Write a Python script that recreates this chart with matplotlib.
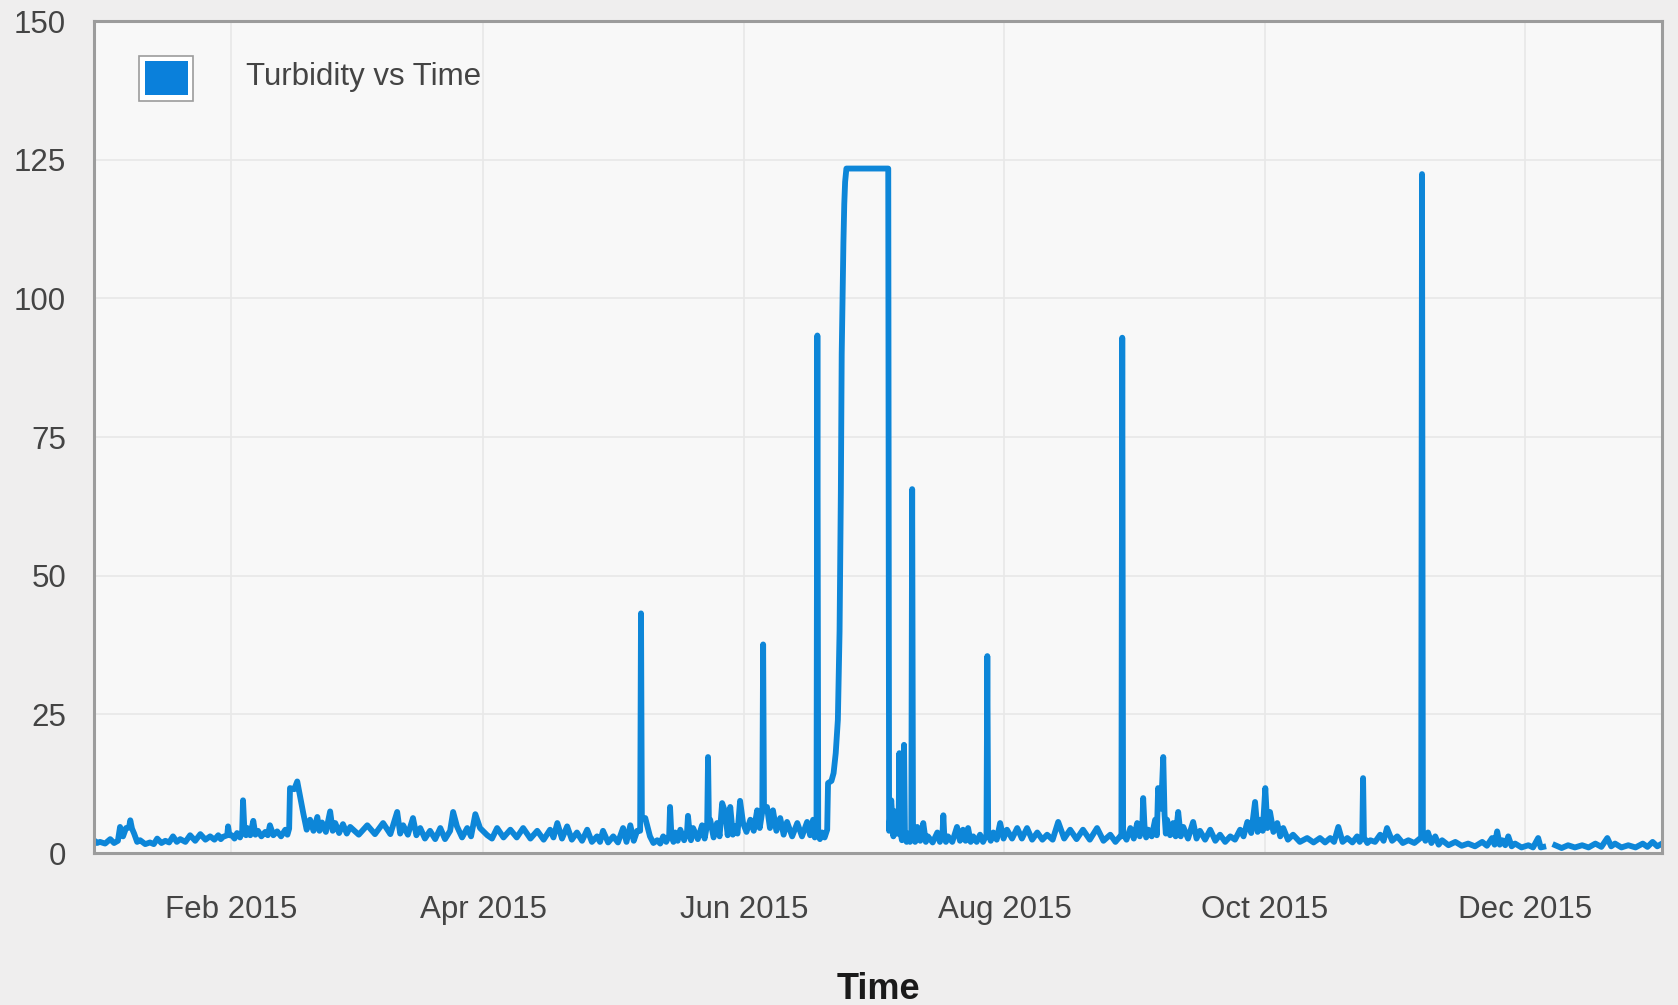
import numpy as np
import pandas as pd
import matplotlib
matplotlib.use("Agg")
from matplotlib import pyplot as plt
import matplotlib.dates as mdates
from matplotlib.patches import Rectangle

# days counted from 2015-01-01, turbidity
# (tops and bottoms of the noisy band, plus every spike)
days = [
    -1.2, -0.5, 0.2, 1.4, 2.6, 3.5, 4.4, 4.9, 5.6, 6.3,
    7.0, 7.3, 7.7, 8.2, 8.9, 9.6, 10.8, 11.9, 12.8, 13.6,
    14.6, 15.5, 16.4, 17.3, 18.2, 19.0, 20.2, 21.3, 22.5, 23.7,
    24.9, 26.0, 27.0, 27.9, 28.5, 29.0, 30.0, 30.2, 30.5, 31.1,
    31.7, 32.3, 33.0, 33.5, 33.7, 34.0, 34.4, 34.7, 35.4, 36.1,
    36.6, 37.2, 38.0, 38.9, 39.5, 40.0, 40.8, 41.7, 42.6, 43.6,
    44.1, 44.5, 44.7, 45.7, 46.4, 47.1, 47.8, 48.6, 49.4, 50.2,
    51.1, 51.6, 52.2, 53.1, 54.1, 54.7, 55.3, 56.2, 57.1, 58.0,
    58.8, 60.8, 62.8, 64.6, 66.5, 68.2, 69.8, 70.5, 71.2, 72.3,
    73.5, 74.3, 75.2, 76.3, 77.5, 78.7, 79.9, 81.0, 82.2, 82.9,
    83.8, 85.0, 86.2, 87.1, 88.1, 89.2, 90.9, 92.0, 93.2, 94.7,
    96.3, 97.8, 99.3, 101.0, 102.6, 104.1, 105.6, 106.4, 107.3, 108.4,
    109.6, 110.7, 111.9, 113.1, 114.3, 115.4, 116.6, 117.3, 118.0, 119.2,
    120.4, 121.5, 122.7, 123.5, 124.4, 125.2, 126.0, 126.7, 126.9, 127.1,
    127.9, 129.0, 129.8, 130.7, 131.4, 132.1, 132.8, 133.5, 133.7, 134.0,
    134.5, 134.9, 135.5, 136.1, 137.0, 137.7, 137.9, 138.2, 138.6, 139.1,
    140.2, 141.2, 141.8, 142.4, 142.6, 142.8, 143.1, 143.9, 144.7, 145.3,
    145.9, 146.6, 147.2, 147.8, 148.4, 148.9, 149.5, 150.1, 150.8, 151.6,
    152.5, 153.3, 154.1, 154.7, 155.3, 155.5, 155.7, 156.4, 157.1, 157.8,
    158.6, 159.5, 160.3, 161.1, 162.3, 163.5, 164.6, 165.8, 166.5, 167.2,
    167.6, 168.0, 168.2, 168.4, 168.8, 169.3, 169.9, 170.5, 170.7, 171.5,
    172.0, 172.5, 173.0, 173.4, 173.7, 173.9, 174.1, 174.3, 174.5, 174.7,
    175.0, 184.8, 185.0, 185.5, 186.0, 186.4, 186.8, 187.2, 187.4, 187.6,
    188.0, 188.3, 188.5, 188.7, 189.1, 189.5, 189.9, 190.2, 190.4, 190.6,
    191.1, 191.6, 192.3, 193.0, 193.6, 194.1, 195.2, 196.3, 196.9, 197.5,
    197.7, 197.9, 198.3, 198.8, 199.8, 200.9, 201.6, 202.3, 202.9, 203.5,
    204.1, 204.7, 205.5, 206.3, 207.0, 207.8, 208.0, 208.2, 208.8, 209.4,
    210.2, 211.0, 211.8, 212.6, 213.8, 215.0, 216.1, 217.3, 218.5, 219.7,
    220.9, 222.0, 223.3, 224.6, 226.0, 227.4, 228.9, 230.4, 232.0, 233.7,
    235.2, 236.8, 238.0, 239.1, 239.4, 239.6, 239.8, 240.6, 241.5, 242.3,
    243.1, 243.7, 244.3, 244.5, 244.8, 245.2, 245.7, 246.5, 247.3, 247.7,
    248.0, 248.7, 249.2, 249.5, 249.8, 250.1, 250.8, 251.5, 252.1, 252.7,
    253.3, 253.9, 255.0, 256.2, 257.0, 257.8, 259.0, 260.2, 261.4, 262.5,
    263.7, 264.9, 266.0, 267.2, 268.0, 268.9, 269.8, 270.7, 271.3, 271.9,
    272.5, 273.1, 273.6, 274.2, 275.0, 275.9, 276.6, 277.3, 278.4, 279.6,
    281.2, 282.9, 284.4, 285.9, 287.1, 288.3, 289.2, 290.2, 291.2, 292.3,
    293.5, 294.6, 295.2, 295.8, 296.0, 296.2, 297.0, 297.7, 298.8, 300.0,
    300.8, 301.6, 302.8, 304.0, 305.3, 306.6, 308.0, 309.6, 309.8, 310.0,
    310.6, 311.2, 312.0, 312.9, 313.7, 314.5, 316.0, 317.6, 319.1, 320.6,
    322.2, 323.9, 325.0, 326.2, 326.8, 327.4, 328.0, 328.6, 329.3, 330.0,
    330.8, 331.6, 333.1, 334.7, 335.8, 337.0, 337.6, 338.2, 339.8, 341.0,
    342.5, 344.0, 345.6, 347.3, 348.8, 350.4, 351.8, 353.2, 354.1, 355.0,
    356.5, 358.1, 359.8, 361.5, 362.6, 363.8, 364.9, 366.0,
]
turbidity = [
    2.3, 1.8, 2.0, 1.7, 2.5, 1.8, 2.2, 4.7, 3.0, 4.5,
    4.6, 5.9, 4.4, 3.5, 2.0, 2.3, 1.6, 1.9, 1.6, 2.6,
    1.8, 2.2, 1.9, 3.0, 2.0, 2.5, 2.0, 3.2, 2.2, 3.4,
    2.4, 3.0, 2.4, 3.2, 2.5, 2.9, 3.2, 4.8, 3.2, 3.2,
    2.6, 3.6, 2.8, 4.0, 9.5, 4.5, 3.2, 4.5, 3.2, 5.8,
    3.3, 4.0, 3.0, 3.8, 3.2, 5.0, 3.2, 3.9, 3.0, 4.2,
    3.3, 4.4, 11.7, 11.5, 12.9, 10.0, 7.2, 4.2, 6.0, 4.0,
    6.5, 4.0, 5.5, 3.8, 7.5, 4.0, 5.4, 3.6, 5.2, 3.5,
    4.7, 3.3, 5.0, 3.4, 5.4, 3.4, 7.4, 3.5, 5.0, 3.3,
    6.3, 3.2, 4.5, 2.6, 4.0, 2.5, 4.5, 2.5, 4.0, 7.4,
    4.8, 2.8, 4.5, 3.0, 7.0, 4.5, 3.2, 2.6, 4.5, 2.8,
    4.2, 2.8, 4.5, 2.6, 4.0, 2.4, 4.2, 2.8, 5.4, 2.6,
    4.8, 2.4, 3.7, 2.2, 4.2, 2.0, 3.0, 2.0, 4.0, 1.9,
    3.0, 1.9, 4.5, 2.0, 5.0, 2.2, 4.0, 4.0, 43.2, 6.3,
    6.3, 3.0, 1.8, 2.3, 1.7, 3.0, 2.0, 3.2, 8.3, 3.5,
    2.0, 3.7, 2.2, 4.2, 2.3, 4.0, 6.7, 4.3, 2.3, 4.5,
    2.5, 5.0, 2.6, 5.2, 17.3, 5.5, 6.0, 2.8, 5.4, 3.0,
    9.0, 7.4, 3.2, 8.3, 3.3, 4.8, 3.5, 9.4, 5.4, 3.8,
    6.0, 4.0, 7.7, 4.5, 7.5, 37.6, 8.0, 8.3, 4.5, 7.7,
    4.0, 6.3, 3.3, 5.6, 3.0, 5.4, 3.0, 5.6, 3.2, 6.0,
    2.8, 5.5, 93.3, 4.0, 2.5, 3.7, 2.8, 4.2, 12.6, 13.0,
    14.4, 18.0, 24.0, 40.0, 65.0, 90.0, 100.0, 110.0, 117.0, 121.0,
    123.4, 123.4, 4.0, 9.5, 3.0, 7.5, 3.5, 3.5, 18.0, 4.0,
    2.3, 4.0, 19.5, 4.0, 2.0, 3.5, 2.0, 3.5, 65.6, 3.5,
    2.0, 4.7, 2.2, 5.4, 2.0, 3.0, 1.9, 3.7, 2.0, 3.5,
    6.8, 3.5, 2.0, 3.0, 2.0, 4.7, 2.2, 4.2, 2.2, 4.5,
    2.0, 3.0, 2.0, 3.3, 2.0, 3.3, 35.5, 3.5, 2.2, 3.7,
    2.4, 5.4, 2.6, 4.2, 2.6, 4.5, 2.6, 4.5, 2.4, 3.7,
    2.4, 3.3, 2.4, 5.6, 2.6, 4.2, 2.5, 4.2, 2.4, 4.5,
    2.2, 3.3, 2.0, 3.0, 3.0, 92.9, 3.5, 2.4, 4.5, 2.6,
    5.4, 3.0, 5.0, 9.9, 5.0, 2.8, 4.2, 3.0, 6.0, 3.2,
    11.7, 8.0, 17.3, 7.0, 3.5, 6.0, 3.2, 5.4, 3.0, 7.4,
    3.0, 4.7, 2.6, 5.6, 2.6, 4.0, 2.4, 4.2, 2.2, 3.3,
    2.0, 3.0, 2.4, 4.2, 3.0, 5.6, 3.6, 9.2, 3.8, 6.0,
    4.0, 11.7, 4.5, 7.4, 3.8, 5.4, 3.0, 4.5, 2.4, 3.3,
    2.0, 2.7, 1.9, 2.7, 1.9, 2.7, 2.0, 4.7, 2.0, 2.7,
    1.9, 3.0, 2.0, 2.8, 13.5, 2.8, 1.8, 2.3, 2.0, 3.3,
    2.2, 4.5, 2.2, 3.0, 1.8, 2.3, 1.8, 2.8, 122.4, 3.7,
    2.2, 3.7, 1.8, 3.0, 1.5, 2.3, 1.4, 2.0, 1.3, 1.7,
    1.2, 2.0, 1.3, 2.7, 1.5, 3.9, 1.5, 2.3, 1.4, 3.0,
    1.2, 1.7, 1.0, 1.4, 1.0, 2.7, 1.0, 1.1, np.nan, 1.4,
    0.9, 1.4, 1.0, 1.4, 1.0, 1.7, 1.1, 2.7, 1.2, 1.7,
    1.0, 1.4, 1.0, 1.7, 1.1, 2.0, 1.2, 1.7,
]
series_label = "Turbidity vs Time"
y_ticks = [0, 25, 50, 75, 100, 125, 150]

times = pd.Timestamp("2015-01-01") + pd.to_timedelta(days, unit="D")

line_color = "#0d86d8"
plt.rcParams["font.family"] = ["Liberation Sans", "DejaVu Sans"]

fig = plt.figure(figsize=(16.78, 10.05), dpi=100, facecolor="#efeeee")
ax = fig.add_axes([94 / 1678, 152 / 1005, 1568 / 1678, 832 / 1005])
ax.set_facecolor("#f8f8f8")

ax.plot(times, turbidity, color=line_color, linewidth=4.2)

ax.set_xlim(times[0], times[-1])
ax.set_ylim(0, 150)
ax.set_yticks(y_ticks)
ax.xaxis.set_major_locator(mdates.MonthLocator(bymonth=[2, 4, 6, 8, 10, 12]))
ax.xaxis.set_major_formatter(mdates.DateFormatter("%b %Y"))
ax.grid(True, color="#e8e8e8", linewidth=1.2)
ax.set_axisbelow(True)
ax.tick_params(length=0, labelsize=22.5, labelcolor="#444444")
ax.tick_params(axis="x", pad=30)
ax.tick_params(axis="y", pad=20)
for s in ax.spines.values():
    s.set_color("#9c9c9c")
    s.set_linewidth(2.2)

ax.set_xlabel("Time", fontsize=26, fontweight="bold", color="#1a1a1a", labelpad=34)

# legend box drawn by hand, like the original
ax.add_patch(Rectangle((45 / 1568, (853 - 101) / 832), 54 / 1568, 45 / 832,
                       transform=ax.transAxes, facecolor="white",
                       edgecolor="#9c9c9c", linewidth=1.2, zorder=5))
ax.add_patch(Rectangle((51 / 1568, (853 - 95) / 832), 43 / 1568, 34 / 832,
                       transform=ax.transAxes, facecolor="#0a80db",
                       edgecolor="none", zorder=6))
ax.text(152 / 1568, (853 - 77) / 832, series_label, transform=ax.transAxes,
        fontsize=22.5, color="#444444", va="center", ha="left", zorder=6)

fig.savefig("out.png", dpi=100, facecolor=fig.get_facecolor())
